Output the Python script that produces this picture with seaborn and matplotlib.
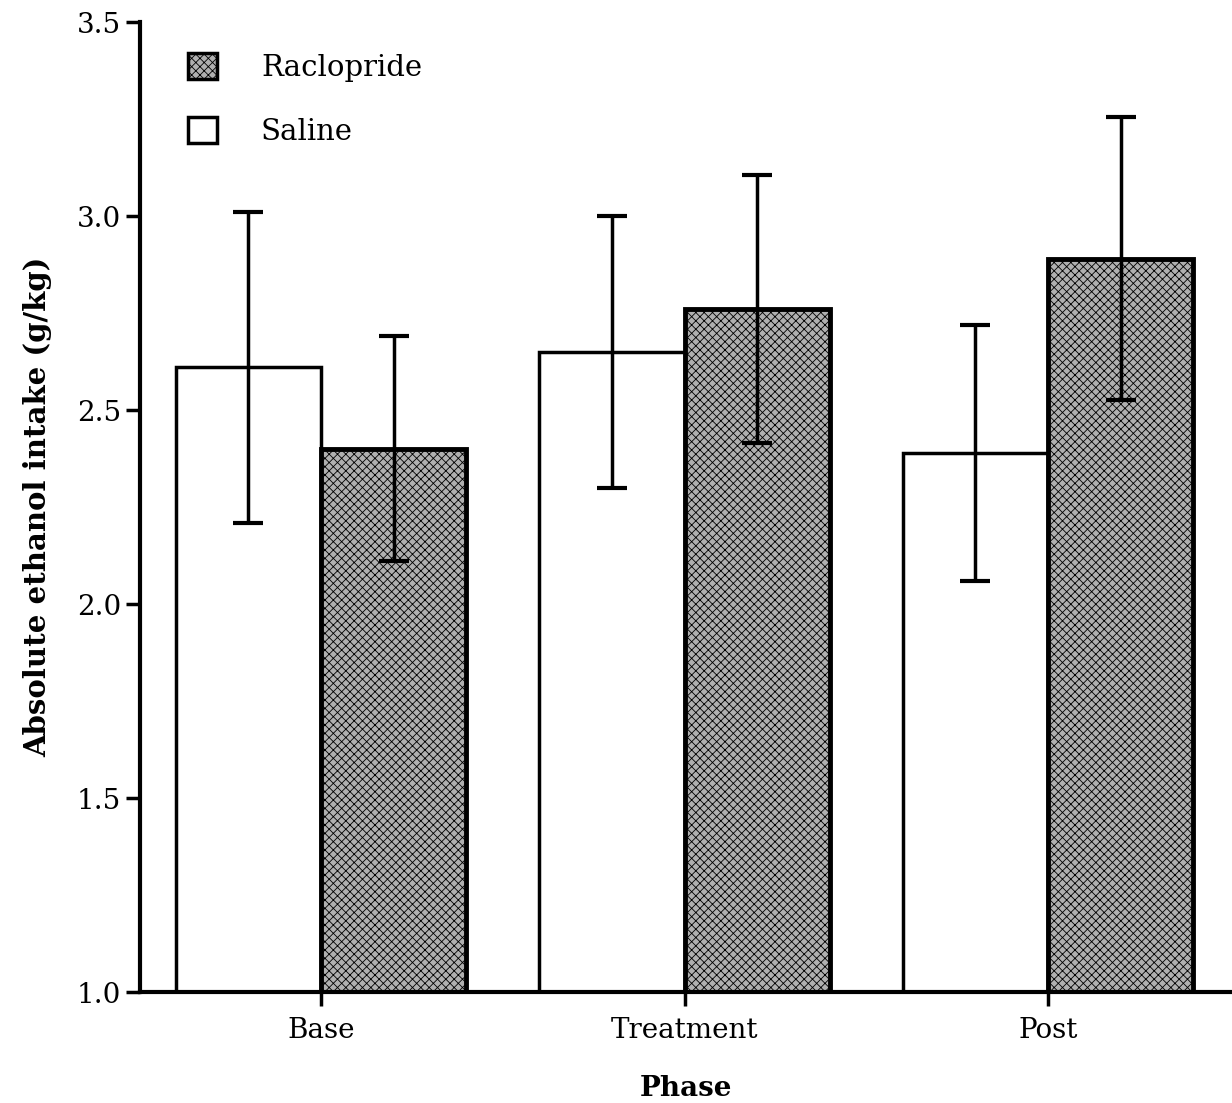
import matplotlib
matplotlib.use("Agg")
import matplotlib.pyplot as plt
import seaborn as sns
import pandas as pd
import numpy as np
from matplotlib.patches import Patch

phases = ["Base", "Treatment", "Post"]
groups = ["Saline", "Raclopride"]
saline_mean = [2.61, 2.65, 2.39]
saline_err = [0.40, 0.35, 0.33]
raclopride_mean = [2.40, 2.76, 2.89]
raclopride_err = [0.29, 0.345, 0.365]

df = pd.DataFrame({
    "Phase": phases * 2,
    "Group": ["Saline"] * 3 + ["Raclopride"] * 3,
    "Intake": saline_mean + raclopride_mean,
    "Err": saline_err + raclopride_err,
})

sns.set_style("ticks")
plt.rcParams["font.family"] = ["DejaVu Serif"]
plt.rcParams["hatch.color"] = "#6a6a6a"
plt.rcParams["hatch.linewidth"] = 0.6
plt.rcParams["text.color"] = "black"
plt.rcParams["axes.labelcolor"] = "black"
plt.rcParams["xtick.color"] = "black"
plt.rcParams["ytick.color"] = "black"
plt.rcParams["axes.edgecolor"] = "black"

fig = plt.figure(figsize=(12.32, 11.03), dpi=100)
ax = fig.add_axes([0.1136, 0.1006, 0.8864, 0.8794])

palette = {"Saline": "white", "Raclopride": "#b0b0b0"}
sns.barplot(data=df, x="Phase", y="Intake", hue="Group", order=phases,
            hue_order=groups, palette=palette, errorbar=None, width=0.8,
            edgecolor="black", linewidth=3, ax=ax, legend=False)

for i, g in enumerate(groups):
    cont = ax.containers[i]
    sub = df[df["Group"] == g].set_index("Phase").loc[phases]
    xs = [p.get_x() + p.get_width() / 2 for p in cont.patches]
    if g == "Raclopride":
        for p in cont.patches:
            p.set_hatch("xxxx")
            p.set_linewidth(3.5)
    else:
        for p in cont.patches:
            p.set_linewidth(2.5)
    ax.errorbar(xs, sub["Intake"].values, yerr=sub["Err"].values, fmt="none",
                ecolor="black", elinewidth=2.5, capsize=11, capthick=3, zorder=5)

ax.set_ylim(1.0, 3.5)
ax.set_xlim(-0.498, 2.506)
ax.set_yticks([1.0, 1.5, 2.0, 2.5, 3.0, 3.5])
ax.set_yticklabels(["1.0", "1.5", "2.0", "2.5", "3.0", "3.5"])
ax.tick_params(axis="both", labelsize=20, width=2.5, length=10, direction="out")
ax.tick_params(axis="x", pad=8)
for s in ["top", "right"]:
    ax.spines[s].set_visible(False)
ax.spines["left"].set_linewidth(3)
ax.spines["bottom"].set_linewidth(3)

ax.set_xlabel("Phase", fontsize=20, fontweight="bold", labelpad=22)
ax.set_ylabel("Absolute ethanol intake (g/kg)", fontsize=21, fontweight="bold", labelpad=18)

handles = [Patch(facecolor="#b0b0b0", edgecolor="black", hatch="xxxx", linewidth=2.5, label="Raclopride"),
           Patch(facecolor="white", edgecolor="black", linewidth=2.5, label="Saline")]
ax.legend(handles=handles, loc="upper left", bbox_to_anchor=(0.02, 0.995), frameon=False,
          fontsize=21, handlelength=1.0, handleheight=1.0, labelspacing=1.2, handletextpad=1.5)

fig.savefig("out.png", dpi=100)
